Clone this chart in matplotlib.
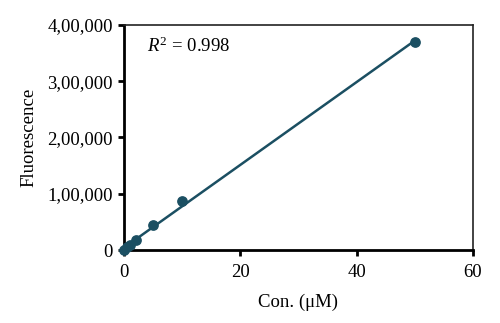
import matplotlib
matplotlib.use("Agg")
import matplotlib.pyplot as plt
import numpy as np

conc = [0, 0.5, 1, 2, 5, 10, 50]
fluor = [0, 5000, 9000, 17500, 44000, 87000, 370000]
xticks = [0, 20, 40, 60]
yticks = [0, 100000, 200000, 300000, 400000]
ytick_labels = ["0", "1,00,000", "2,00,000", "3,00,000", "4,00,000"]

plt.rcParams['font.family'] = ['Liberation Serif', 'DejaVu Serif']
plt.rcParams['mathtext.fontset'] = 'custom'
plt.rcParams['mathtext.rm'] = 'Liberation Serif'
plt.rcParams['mathtext.it'] = 'Liberation Serif:italic'
color = "#1b4f62"

fig = plt.figure(figsize=(5.0, 3.23), dpi=100)
ax = fig.add_axes([0.248, 0.226, 0.698, 0.697])

slope, intercept = np.polyfit(conc, fluor, 1)
xl = np.array([0, 50])
ax.plot(xl, slope * xl + intercept, color=color, lw=1.8, zorder=2)
ax.scatter(conc, fluor, s=45, color=color, zorder=3, clip_on=False)

ax.set_xlim(0, 60)
ax.set_ylim(0, 400000)
ax.set_xticks(xticks)
ax.set_yticks(yticks)
ax.set_yticklabels(ytick_labels)
ax.tick_params(direction='out', length=4, width=2, labelsize=13.5, colors='black')
ax.tick_params(axis='x', pad=6)
ax.tick_params(axis='y', pad=4)
ax.tick_params(top=False, right=False)
for s in ['left', 'bottom']:
    ax.spines[s].set_linewidth(2)
for s in ['top', 'right']:
    ax.spines[s].set_linewidth(1.2)
    ax.spines[s].set_color('#222222')

ax.set_xlabel("Con. (μM)", fontsize=13.5, labelpad=9)
ax.set_ylabel("Fluorescence", fontsize=13.5, labelpad=7)
ax.text(0.065, 0.88, r"$R^2$ = 0.998", transform=ax.transAxes, fontsize=13.5)

fig.savefig("out.png", dpi=100)
